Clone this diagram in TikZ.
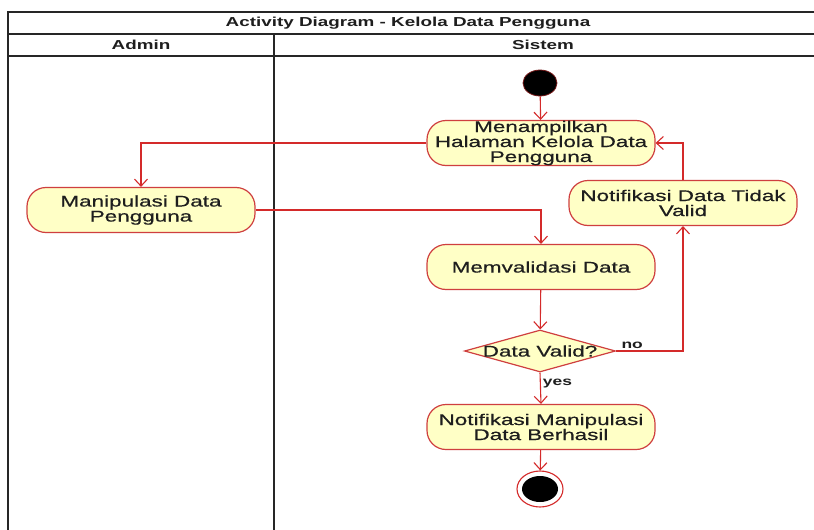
\documentclass[tikz,border=0pt]{standalone}
\usepackage{fontspec}
\setmainfont{Liberation Sans}[FakeStretch=1.45]
\newfontfamily\actfont{Liberation Sans}[FakeStretch=1.45, FakeBold=0.5]
\usetikzlibrary{arrows.meta,shapes.geometric}
\definecolor{actfill}{HTML}{FFFFC6}
\definecolor{actline}{HTML}{CF3F3F}
\definecolor{flow}{HTML}{D42A2A}
\definecolor{ink}{HTML}{1E1E1E}
\begin{document}
\begin{tikzpicture}[x=1pt,y=-1pt,
  lane/.style={line width=1.4pt, draw=black!85},
  acttext/.style={font=\actfont\fontsize{15.5}{15}\selectfont, text=ink},
  action/.style={acttext, draw=actline, fill=actfill, line width=1.2pt,
    rounded corners=19pt, minimum width=228pt, minimum height=45pt,
    align=center, inner sep=0pt},
  decision/.style={diamond, draw=actline, fill=actfill, line width=1.2pt,
    minimum width=151pt, minimum height=42pt, inner sep=0pt},
  flowline/.style={draw=flow, line width=1.1pt,
    -{Straight Barb[length=7pt,width=13pt]}},
  guard/.style={font=\bfseries\fontsize{12}{12}\selectfont, text=ink, inner sep=2pt},
  head/.style={font=\bfseries\fontsize{13}{13}\selectfont, text=ink},
]
\useasboundingbox (0,0) rectangle (814,530);
\fill[white] (0,0) rectangle (814,530);

% swimlane frame
\draw[lane] (8,545) -- (8,12) -- (830,12);
\draw[lane] (8,34) -- (830,34);
\draw[lane] (8,56) -- (830,56);
\draw[lane] (274,34) -- (274,545);
\node[head] (title) at (408,23) {Activity Diagram - Kelola Data Pengguna};
\node[head] (admin) at (141,45) {Admin};
\node[head] (sistem) at (543,45) {Sistem};

% activities
\node[ellipse, fill=black, draw=flow!55!black, line width=0.8pt,
  minimum width=34pt, minimum height=26pt, inner sep=0pt] (start) at (540,83) {};
\node[action] (show) at (541,143) {Menampilkan\\Halaman Kelola Data\\Pengguna};
\node[action] (manip) at (141,210) {Manipulasi Data\\Pengguna};
\node[action] (invalid) at (683,203) {Notifikasi Data Tidak\\Valid};
\node[action] (validate) at (541,267) {Memvalidasi Data};
\node[decision, label={[acttext]center:Data Valid?}] (dec) at (540,351) {};
\node[action] (success) at (541,427) {Notifikasi Manipulasi\\Data Berhasil};
\node[ellipse, draw=flow, fill=white, line width=1.1pt,
  minimum width=46pt, minimum height=36pt, inner sep=0pt,
  path picture={\fill[black] (path picture bounding box.center) ellipse (18pt and 13pt);}]
  (end) at (540,489) {};

% control flow
\draw[flowline] (start) -- (show);
\draw[flowline] (show.west) -| (manip.north);
\draw[flowline] (manip.east) -| (validate.north);
\draw[flowline] (validate) -- (dec);
\draw[flowline] (dec.east) -| node[guard, pos=0.12, above] {no} (invalid.south);
\draw[flowline] (invalid.north) |- (show.east);
\draw[flowline] (dec.south) -- node[guard, pos=0.36, right] {yes} (success.north);
\draw[flowline] (success) -- (end);
\end{tikzpicture}
\end{document}
